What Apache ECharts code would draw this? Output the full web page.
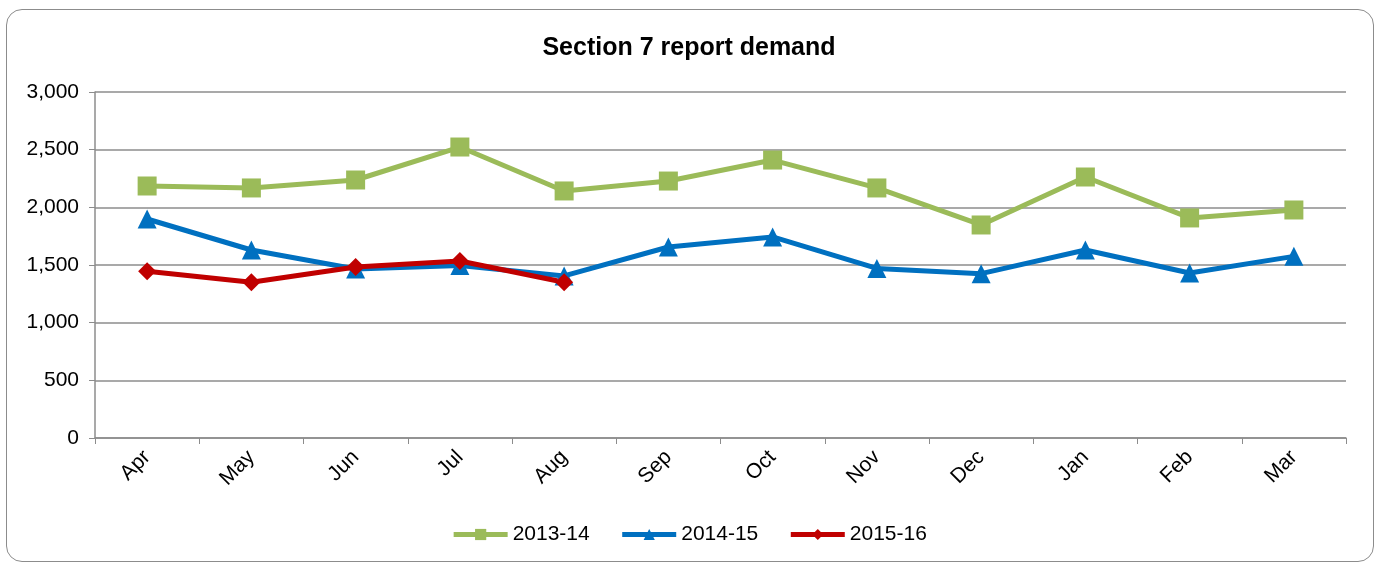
<!DOCTYPE html>
<html>
<head>
<meta charset="utf-8">
<script src="https://cdn.jsdelivr.net/npm/echarts@6/dist/echarts.min.js"></script>
<style>
  html, body { margin: 0; padding: 0; background: #fff; }
  #frame {
    position: absolute; left: 6px; top: 9px; width: 1368px; height: 553px;
    border: 1.5px solid #8c8c8c; border-radius: 16px; box-sizing: border-box;
  }
  #chart { position: absolute; left: 0; top: 0; width: 1378px; height: 565px; }
</style>
</head>
<body>
<div id="frame"></div>
<div id="chart"></div>
<script>
  "use strict";

  const GREEN = "#9bbb59";
  const BLUE = "#0070c0";
  const RED = "#c00000";
  const GRID = "#8c8c8c";
  const FONT = "Liberation Sans, Arial, sans-serif";

  const months = ["Apr", "May", "Jun", "Jul", "Aug", "Sep", "Oct", "Nov", "Dec", "Jan", "Feb", "Mar"];
  const y2013 = [2185, 2168, 2237, 2523, 2142, 2228, 2410, 2168, 1847, 2263, 1908, 1977];
  const y2014 = [1899, 1630, 1465, 1495, 1405, 1656, 1743, 1470, 1425, 1630, 1431, 1575];
  const y2015 = [1445, 1350, 1483, 1535, 1350];

  function line(name, data, color, symbol, size) {
    return {
      name, type: "line", data,
      symbol, symbolSize: size,
      lineStyle: { color, width: 5 },
      itemStyle: { color },
      emphasis: { disabled: true },
    };
  }

  const inst = echarts.init(document.getElementById("chart"), null, { renderer: "canvas" });
  inst.setOption({
    animation: false,
    textStyle: { fontFamily: FONT },
    title: {
      text: "Section 7 report demand", left: "center", top: 31,
      textStyle: { fontSize: 25, fontWeight: "bold", color: "#000", fontFamily: FONT },
    },
    grid: { left: 95, right: 32, top: 92, bottom: 127 },
    legend: {
      bottom: 15, left: "center", itemGap: 30, itemWidth: 54, itemHeight: 14,
      lineStyle: { width: 5 },
      textStyle: { fontSize: 21, color: "#000", fontFamily: FONT, padding: [0, 0, 0, 0] },
      data: ["2013-14", "2014-15", "2015-16"],
    },
    xAxis: {
      type: "category", data: months, boundaryGap: true,
      axisLine: { lineStyle: { color: GRID, width: 1.5 } },
      axisTick: { show: true, interval: 0, length: 6, lineStyle: { color: GRID } },
      axisLabel: { rotate: 45, fontSize: 21, color: "#000", margin: 16, fontFamily: FONT },
    },
    yAxis: {
      type: "value", min: 0, max: 3000, interval: 500,
      axisLine: { show: true, lineStyle: { color: GRID, width: 1.5 } },
      axisTick: { show: true, length: 6, lineStyle: { color: GRID } },
      axisLabel: {
        fontSize: 21, color: "#000", margin: 16, fontFamily: FONT,
        formatter: (v) => v.toLocaleString("en-US"),
      },
      splitLine: { lineStyle: { color: GRID, width: 1.5 } },
    },
    series: [
      line("2013-14", y2013, GREEN, "rect", 19),
      line("2014-15", y2014, BLUE, "triangle", 19),
      line("2015-16", y2015, RED, "diamond", 18),
    ],
  });
</script>
</body>
</html>
